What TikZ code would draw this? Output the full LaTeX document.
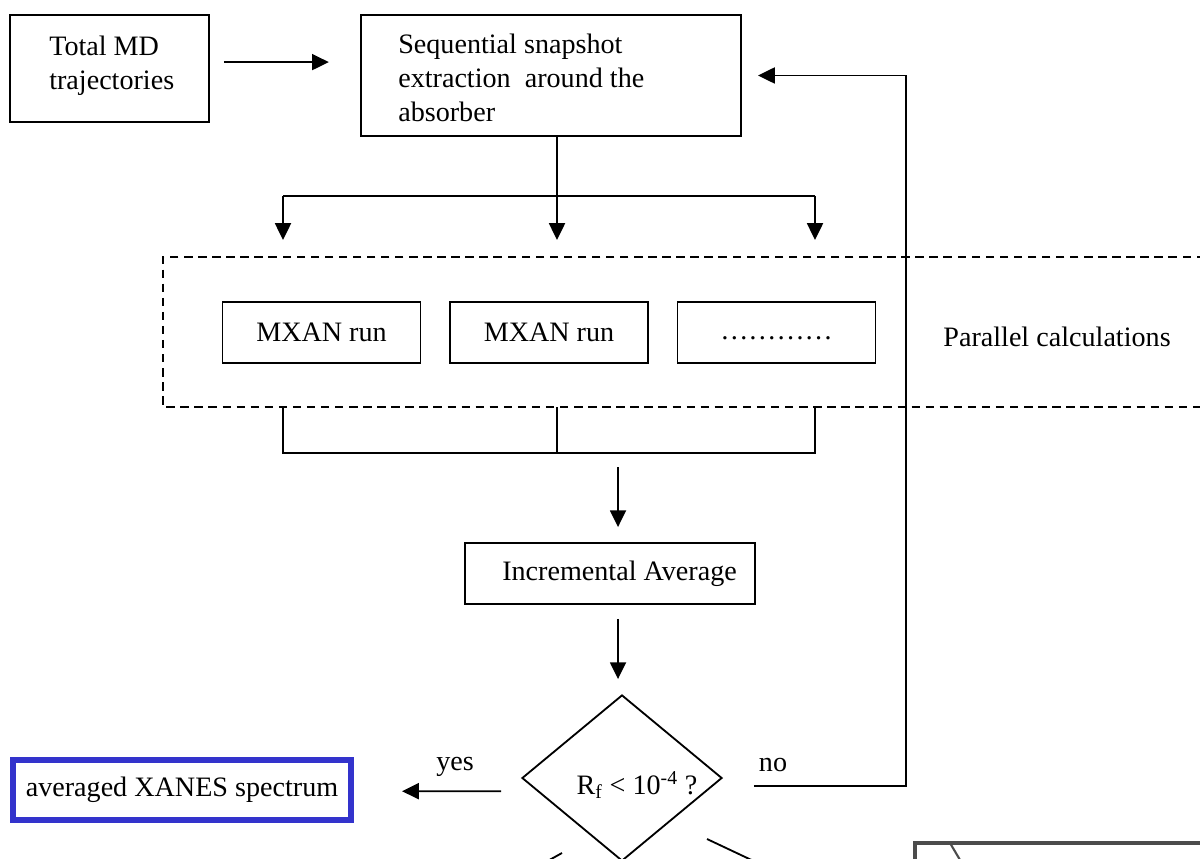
\documentclass[tikz,border=0pt]{standalone}
\usepackage{fontspec}
\setmainfont{Liberation Serif}
\usetikzlibrary{arrows.meta,shapes.geometric}
\definecolor{xanesblue}{RGB}{51,51,204}

\begin{document}
\begin{tikzpicture}[x=0.025cm,y=-0.025cm,
  font=\fontsize{20}{24}\selectfont,
  flowbox/.style={draw,line width=1.3pt,inner sep=0pt},
  txt/.style={inner sep=0pt,align=left},
  conn/.style={line width=1.3pt},
  arr/.style={line width=1.3pt,-{Triangle[length=0.42cm,width=0.4cm]}}]
\useasboundingbox (0,0) rectangle (1200,859);
\clip (0,0) rectangle (1200,859);

% top row
\node[flowbox,minimum width=4.975cm,minimum height=2.675cm] (md) at (109.5,68.5) {};
\node[txt,anchor=west] (mdtxt) at (49,66) {Total MD\\trajectories};
\node[flowbox,minimum width=9.5cm,minimum height=3.025cm] (snap) at (551,75.5) {};
\node[txt,anchor=west] (snaptxt) at (398,78) {Sequential snapshot\\extraction\ \ around the\\absorber};

% parallel runs
\node[flowbox,minimum width=4.95cm,minimum height=1.525cm] (run1) at (321.5,332.5) {MXAN run};
\node[flowbox,minimum width=4.95cm,minimum height=1.525cm] (run2) at (549,332.5) {MXAN run};
\node[flowbox,minimum width=4.95cm,minimum height=1.525cm] (run3) at (776.5,332.5) {\strut …………};
\node[txt] (partxt) at (1057,337) {Parallel calculations};
\draw[line width=1.1pt,dash pattern=on 6pt off 4pt] (1205,257) -- (163,257) -- (163,407) -- (1205,407);

% average and test
\node[flowbox,minimum width=7.25cm,minimum height=1.525cm] (inc) at (610,573.5) {};
\node[txt,anchor=west] (inctxt) at (502,574) {Incremental Average};
\node[draw,diamond,line width=1.3pt,inner sep=0pt,minimum width=5cm,minimum height=4.15cm] (test) at (622,778) {};
\node[txt] (testtxt) at (637,785) {R\textsubscript{f} < 10\textsuperscript{-4} ?};
\node[draw=xanesblue,line width=4.2pt,minimum width=8.45cm,minimum height=1.5cm,inner sep=0pt] (avg) at (182,790) {averaged XANES spectrum};
\node[txt] (yes) at (455,767) {yes};
\node[txt] (no) at (773,765) {no};

% connectors
\coordinate (mdout) at ([yshift=0.16cm]md.east);
\draw[arr,shorten <=0.35cm,shorten >=0.78cm] (mdout) -- (mdout -| snap.west);
\coordinate (snapout) at ([xshift=0.15cm]snap.south);
\draw[arr] (snapout) -- (snapout |- 0,240);
\coordinate (splitl) at (283,196);
\coordinate (splitr) at (815,196);
\draw[conn] (splitl) -- (splitr);
\draw[arr] (splitl) -- (283,240);
\draw[arr] (splitr) -- (815,240);
\draw[conn] (283,407) -- (283,453) -- (815,453) -- (815,407);
\draw[conn] (557,407) -- (557,453);
\coordinate (incin) at ([xshift=0.2cm]inc.north);
\draw[arr,shorten >=0.375cm] ([yshift=1.875cm]incin) -- (incin);
\coordinate (incout) at ([xshift=0.2cm]inc.south);
\draw[arr,shorten <=0.35cm,shorten >=0.375cm] (incout) -- (incout |- test.north);
\draw[arr,shorten <=0.5cm,shorten >=1.2cm] ([yshift=-0.33cm]test.west) -- ([yshift=-0.03cm]avg.east);
\coordinate (turn) at (906,75.5);
\draw[arr,shorten <=0.775cm,shorten >=0.4cm] ([yshift=-0.2cm]test.east) -| (turn) -- (turn -| snap.east);

% cut-off parts at the bottom
\draw[conn] (562,853) -- (544,863);
\draw[conn] (707,839) -- (760,864);
\draw[line width=2.5pt,black!70] (915,865) -- (915,843) -- (1205,843);
\draw[line width=1.5pt,black!70] (950,843) -- (963,865);
\end{tikzpicture}
\end{document}
